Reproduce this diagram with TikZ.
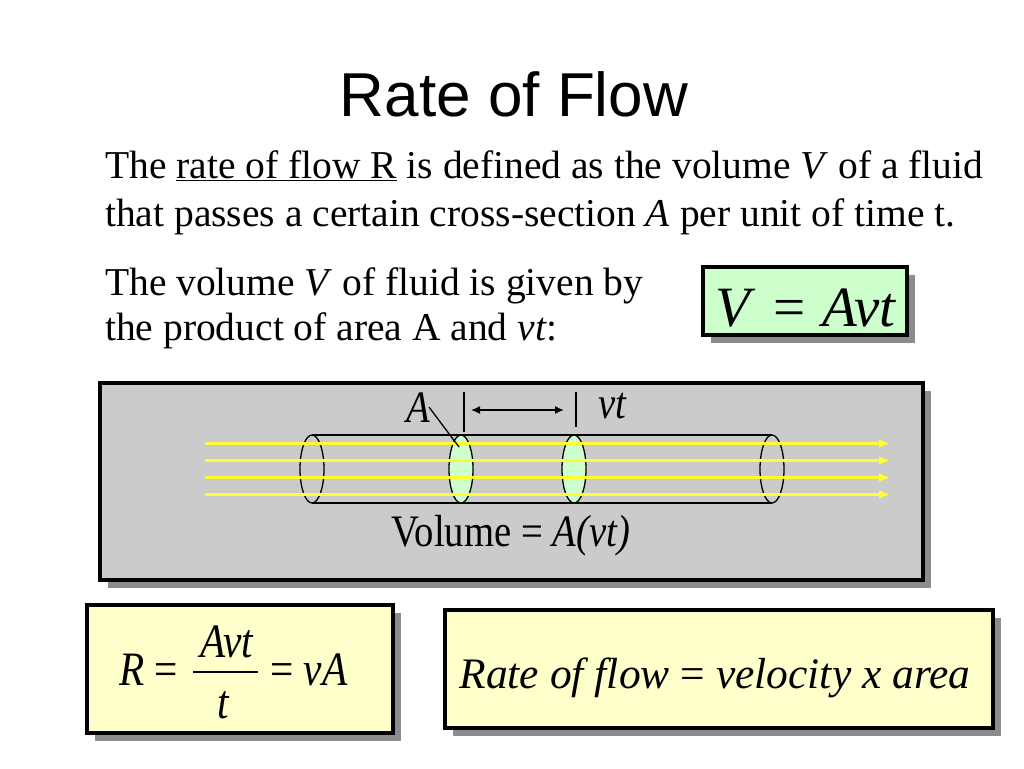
\documentclass[tikz,border=0pt]{standalone}
\usepackage{fontspec}
\setmainfont{Liberation Serif}
\newfontfamily\headfont{Liberation Sans}
\newfontfamily\condfont[FakeStretch=0.86]{Liberation Serif}
\usetikzlibrary{arrows.meta,shadows}

\definecolor{panelgray}{HTML}{CBCBCB}
\definecolor{shadowgray}{HTML}{8C8C8C}
\definecolor{boxgreen}{HTML}{CCFFCC}
\definecolor{boxyellow}{HTML}{FFFFCC}
\definecolor{flowyellow}{HTML}{FFFF33}

\tikzset{
  slidebox/.style={draw=black, line width=3.5pt, inner sep=0pt,
    drop shadow={shadow xshift=8pt, shadow yshift=-8pt, fill=shadowgray, opacity=1}},
  bodyline/.style={anchor=base west, inner sep=0pt, font=\fontsize{39.5}{48}\selectfont},
  labeltext/.style={inner sep=0pt, font=\condfont\fontsize{45}{50}\selectfont},
  eqtext/.style={inner sep=0pt, font=\condfont\fontsize{48}{54}\selectfont},
  flowline/.style={flowyellow, line width=2.6pt, -{Latex[length=11pt,width=9pt]}},
  tubeline/.style={line width=1.3pt},
}

\begin{document}
\begin{tikzpicture}[x=1pt,y=-1pt]
    \useasboundingbox[fill=white] (0,0) rectangle (1024,768);

    % Title and text
    \node[anchor=base, inner sep=0pt, font=\headfont\fontsize{62}{70}\selectfont] (title) at (514,116) {Rate of Flow};
    \node[bodyline] (defA) at (105,178) {The \underline{rate of flow R} is defined as the volume \textit{V} of a fluid};
    \node[bodyline] (defB) at (105,226) {that passes a certain cross-section \textit{A} per unit of time t.};
    \node[bodyline] (volA) at (105,295) {The volume \textit{V} of fluid is given by};
    \node[bodyline] (volB) at (105,340) {the product of area A and \textit{vt}:};

    % Volume formula box
    \node[slidebox, fill=boxgreen, minimum width=204pt, minimum height=68pt] (vbox) at (805,301) {};
    \node[anchor=base, inner sep=0pt, font=\fontsize{57}{64}\selectfont] (veq) at (806,326) {\textit{V}\hspace{0.3em}=\hspace{0.3em}\textit{Avt}};

    % Diagram panel
    \node[slidebox, line width=4pt, fill=panelgray, minimum width=823pt, minimum height=197pt] (panel) at (511.5,481.5) {};

    % Tube
    \coordinate (endL) at (312,469);
    \coordinate (endR) at (772,469);
    \coordinate (cutA) at (461,469);
    \coordinate (cutB) at (574,469);
    \coordinate (topL) at (312,435);
    \coordinate (topR) at (772,435);
    \coordinate (botL) at (312,503);
    \coordinate (botR) at (772,503);
    \draw[tubeline] (topL) -- (topR) (botL) -- (botR);
    \foreach \tubeend in {endL,endR}
        \draw[tubeline] (\tubeend) ellipse [x radius=12, y radius=34];
    \foreach \cut in {cutA,cutB}
        \filldraw[tubeline, fill=boxgreen] (\cut) ellipse [x radius=12, y radius=34];

    % Flow lines
    \foreach \yy in {443.5,460.5,477.5,494.5}
        \draw[flowline] (205,\yy) -- (890,\yy);

    % Labels
    \node[labeltext, anchor=base] (alabel) at (418,422) {\textit{A}};
    \coordinate (aend) at (459,447);
    \draw[tubeline] ([xshift=-1pt]alabel.east) -- (aend);

    \coordinate (tickAtop) at (464,392);
    \coordinate (tickAbot) at (464,432);
    \coordinate (tickBtop) at (576,392);
    \coordinate (tickBbot) at (576,427);
    \draw[tubeline] (tickAtop) -- (tickAbot) (tickBtop) -- (tickBbot);
    \coordinate (dimL) at (471,410);
    \coordinate (dimR) at (564,410);
    \draw[line width=1.5pt, {Latex[length=9pt,width=8pt]}-{Latex[length=9pt,width=8pt]}] (dimL) -- (dimR);
    \node[labeltext, anchor=base west] (vtlabel) at (598,418) {\textit{vt}};

    \node[labeltext, anchor=base] (vollabel) at (511,546) {Volume = \textit{A(vt)}};

    % Rate boxes
    \node[slidebox, fill=boxyellow, minimum width=306pt, minimum height=128pt] (rbox) at (240,669) {};
    \node[slidebox, fill=boxyellow, minimum width=548pt, minimum height=118pt] (wbox) at (719,669) {};

    \node[eqtext, anchor=base west] (rlhs) at (119,685) {\textit{R} =};
    \node[eqtext, anchor=base] (rnum) at (227,657) {\textit{Avt}};
    \node[eqtext, anchor=base] (rden) at (224,718) {\textit{t}};
    \coordinate (fracL) at (193,672);
    \coordinate (fracR) at (258,672);
    \draw[line width=1.4pt] (fracL) -- (fracR);
    \node[eqtext, anchor=base west] (rrhs) at (270,685) {= \textit{vA}};

    \node[anchor=base, inner sep=0pt, font=\fontsize{43.5}{50}\selectfont] (wtext) at (715,688) {\textit{Rate of flow} = \textit{velocity x area}};

\end{tikzpicture}
\end{document}
